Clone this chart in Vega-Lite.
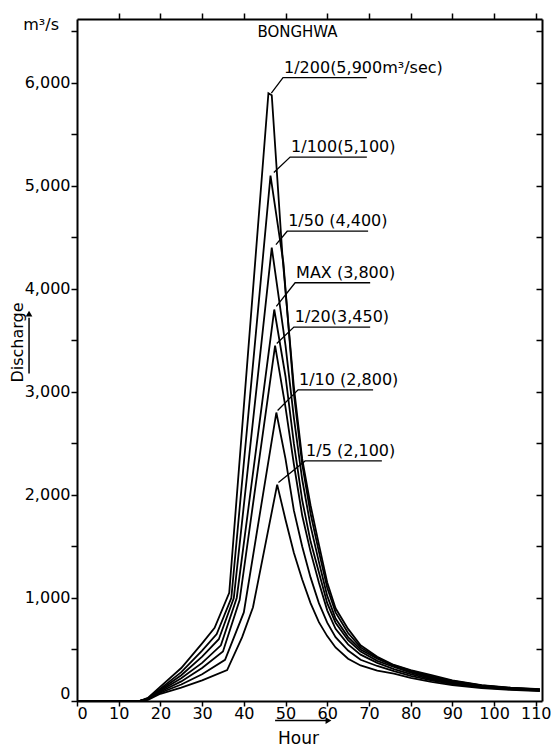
{
  "$schema": "https://vega.github.io/schema/vega-lite/v6.json",
  "width": 465,
  "height": 682,
  "autosize": {"type": "none"},
  "padding": {"left": 77, "top": 19, "right": 18, "bottom": 47},
  "background": "white",
  "title": {
    "text": "BONGHWA",
    "frame": "group",
    "offset": -13,
    "baseline": "middle",
    "dx": -12,
    "dy": 22,
    "fontSize": 15,
    "fontWeight": "normal",
    "font": "DejaVu Sans",
    "color": "black"
  },
  "datasets": {
    "hydro": [
      {"series": "1/200", "hour": 0, "discharge": 0},
      {"series": "1/200", "hour": 15, "discharge": 0},
      {"series": "1/200", "hour": 17, "discharge": 30},
      {"series": "1/200", "hour": 20, "discharge": 140},
      {"series": "1/200", "hour": 25, "discharge": 320},
      {"series": "1/200", "hour": 30, "discharge": 560},
      {"series": "1/200", "hour": 33, "discharge": 710},
      {"series": "1/200", "hour": 36.5, "discharge": 1050},
      {"series": "1/200", "hour": 45.9, "discharge": 5900},
      {"series": "1/200", "hour": 46.7, "discharge": 5880},
      {"series": "1/200", "hour": 49.3, "discharge": 4300},
      {"series": "1/200", "hour": 52, "discharge": 3050},
      {"series": "1/200", "hour": 54, "discharge": 2350},
      {"series": "1/200", "hour": 56, "discharge": 1900},
      {"series": "1/200", "hour": 58, "discharge": 1520},
      {"series": "1/200", "hour": 60, "discharge": 1150},
      {"series": "1/200", "hour": 62, "discharge": 900},
      {"series": "1/200", "hour": 65, "discharge": 700},
      {"series": "1/200", "hour": 68, "discharge": 540},
      {"series": "1/200", "hour": 72, "discharge": 430},
      {"series": "1/200", "hour": 76, "discharge": 350},
      {"series": "1/200", "hour": 80, "discharge": 300},
      {"series": "1/200", "hour": 85, "discharge": 250},
      {"series": "1/200", "hour": 90, "discharge": 200},
      {"series": "1/200", "hour": 97, "discharge": 155},
      {"series": "1/200", "hour": 104, "discharge": 130},
      {"series": "1/200", "hour": 111, "discharge": 115},

      {"series": "1/100", "hour": 0, "discharge": 0},
      {"series": "1/100", "hour": 15, "discharge": 0},
      {"series": "1/100", "hour": 17, "discharge": 25},
      {"series": "1/100", "hour": 20, "discharge": 120},
      {"series": "1/100", "hour": 25, "discharge": 280},
      {"series": "1/100", "hour": 30, "discharge": 490},
      {"series": "1/100", "hour": 33.5, "discharge": 650},
      {"series": "1/100", "hour": 37, "discharge": 1000},
      {"series": "1/100", "hour": 46.4, "discharge": 5100},
      {"series": "1/100", "hour": 49.5, "discharge": 4250},
      {"series": "1/100", "hour": 52, "discharge": 2980},
      {"series": "1/100", "hour": 54, "discharge": 2300},
      {"series": "1/100", "hour": 56, "discharge": 1820},
      {"series": "1/100", "hour": 58, "discharge": 1450},
      {"series": "1/100", "hour": 60, "discharge": 1100},
      {"series": "1/100", "hour": 62, "discharge": 860},
      {"series": "1/100", "hour": 65, "discharge": 660},
      {"series": "1/100", "hour": 68, "discharge": 520},
      {"series": "1/100", "hour": 72, "discharge": 420},
      {"series": "1/100", "hour": 76, "discharge": 345},
      {"series": "1/100", "hour": 80, "discharge": 295},
      {"series": "1/100", "hour": 85, "discharge": 240},
      {"series": "1/100", "hour": 90, "discharge": 195},
      {"series": "1/100", "hour": 97, "discharge": 152},
      {"series": "1/100", "hour": 104, "discharge": 127},
      {"series": "1/100", "hour": 111, "discharge": 112},

      {"series": "1/50", "hour": 0, "discharge": 0},
      {"series": "1/50", "hour": 15, "discharge": 0},
      {"series": "1/50", "hour": 17, "discharge": 22},
      {"series": "1/50", "hour": 20, "discharge": 110},
      {"series": "1/50", "hour": 25, "discharge": 250},
      {"series": "1/50", "hour": 30, "discharge": 430},
      {"series": "1/50", "hour": 34, "discharge": 600},
      {"series": "1/50", "hour": 37.6, "discharge": 1000},
      {"series": "1/50", "hour": 46.7, "discharge": 4400},
      {"series": "1/50", "hour": 50, "discharge": 3450},
      {"series": "1/50", "hour": 52, "discharge": 2750},
      {"series": "1/50", "hour": 54, "discharge": 2150},
      {"series": "1/50", "hour": 56, "discharge": 1700},
      {"series": "1/50", "hour": 58, "discharge": 1350},
      {"series": "1/50", "hour": 60, "discharge": 1020},
      {"series": "1/50", "hour": 62, "discharge": 800},
      {"series": "1/50", "hour": 65, "discharge": 620},
      {"series": "1/50", "hour": 68, "discharge": 500},
      {"series": "1/50", "hour": 72, "discharge": 410},
      {"series": "1/50", "hour": 76, "discharge": 340},
      {"series": "1/50", "hour": 80, "discharge": 285},
      {"series": "1/50", "hour": 85, "discharge": 230},
      {"series": "1/50", "hour": 90, "discharge": 190},
      {"series": "1/50", "hour": 97, "discharge": 148},
      {"series": "1/50", "hour": 104, "discharge": 124},
      {"series": "1/50", "hour": 111, "discharge": 110},

      {"series": "MAX", "hour": 0, "discharge": 0},
      {"series": "MAX", "hour": 15, "discharge": 0},
      {"series": "MAX", "hour": 17, "discharge": 20},
      {"series": "MAX", "hour": 20, "discharge": 100},
      {"series": "MAX", "hour": 25, "discharge": 220},
      {"series": "MAX", "hour": 30, "discharge": 370},
      {"series": "MAX", "hour": 34.5, "discharge": 540},
      {"series": "MAX", "hour": 38.3, "discharge": 1000},
      {"series": "MAX", "hour": 47.3, "discharge": 3800},
      {"series": "MAX", "hour": 50, "discharge": 3150},
      {"series": "MAX", "hour": 52, "discharge": 2500},
      {"series": "MAX", "hour": 54, "discharge": 1950},
      {"series": "MAX", "hour": 56, "discharge": 1550},
      {"series": "MAX", "hour": 58, "discharge": 1250},
      {"series": "MAX", "hour": 60, "discharge": 950},
      {"series": "MAX", "hour": 62, "discharge": 760},
      {"series": "MAX", "hour": 65, "discharge": 590},
      {"series": "MAX", "hour": 68, "discharge": 480},
      {"series": "MAX", "hour": 72, "discharge": 390},
      {"series": "MAX", "hour": 76, "discharge": 330},
      {"series": "MAX", "hour": 80, "discharge": 275},
      {"series": "MAX", "hour": 85, "discharge": 220},
      {"series": "MAX", "hour": 90, "discharge": 180},
      {"series": "MAX", "hour": 97, "discharge": 142},
      {"series": "MAX", "hour": 104, "discharge": 120},
      {"series": "MAX", "hour": 111, "discharge": 107},

      {"series": "1/20", "hour": 0, "discharge": 0},
      {"series": "1/20", "hour": 15, "discharge": 0},
      {"series": "1/20", "hour": 17, "discharge": 18},
      {"series": "1/20", "hour": 20, "discharge": 90},
      {"series": "1/20", "hour": 25, "discharge": 190},
      {"series": "1/20", "hour": 30, "discharge": 320},
      {"series": "1/20", "hour": 35, "discharge": 480},
      {"series": "1/20", "hour": 39, "discharge": 980},
      {"series": "1/20", "hour": 47.5, "discharge": 3450},
      {"series": "1/20", "hour": 50, "discharge": 2850},
      {"series": "1/20", "hour": 52, "discharge": 2300},
      {"series": "1/20", "hour": 54, "discharge": 1800},
      {"series": "1/20", "hour": 56, "discharge": 1450},
      {"series": "1/20", "hour": 58, "discharge": 1150},
      {"series": "1/20", "hour": 60, "discharge": 880},
      {"series": "1/20", "hour": 62, "discharge": 700},
      {"series": "1/20", "hour": 65, "discharge": 550},
      {"series": "1/20", "hour": 68, "discharge": 450},
      {"series": "1/20", "hour": 72, "discharge": 370},
      {"series": "1/20", "hour": 76, "discharge": 310},
      {"series": "1/20", "hour": 80, "discharge": 260},
      {"series": "1/20", "hour": 85, "discharge": 210},
      {"series": "1/20", "hour": 90, "discharge": 172},
      {"series": "1/20", "hour": 97, "discharge": 138},
      {"series": "1/20", "hour": 104, "discharge": 116},
      {"series": "1/20", "hour": 111, "discharge": 104},

      {"series": "1/10", "hour": 0, "discharge": 0},
      {"series": "1/10", "hour": 15, "discharge": 0},
      {"series": "1/10", "hour": 17, "discharge": 15},
      {"series": "1/10", "hour": 20, "discharge": 80},
      {"series": "1/10", "hour": 25, "discharge": 160},
      {"series": "1/10", "hour": 30, "discharge": 260},
      {"series": "1/10", "hour": 35.5, "discharge": 400},
      {"series": "1/10", "hour": 40, "discharge": 860},
      {"series": "1/10", "hour": 47.8, "discharge": 2800},
      {"series": "1/10", "hour": 50, "discharge": 2350},
      {"series": "1/10", "hour": 52, "discharge": 1850},
      {"series": "1/10", "hour": 54, "discharge": 1500},
      {"series": "1/10", "hour": 56, "discharge": 1200},
      {"series": "1/10", "hour": 58, "discharge": 950},
      {"series": "1/10", "hour": 60, "discharge": 760},
      {"series": "1/10", "hour": 62, "discharge": 620},
      {"series": "1/10", "hour": 65, "discharge": 490},
      {"series": "1/10", "hour": 68, "discharge": 400},
      {"series": "1/10", "hour": 72, "discharge": 340},
      {"series": "1/10", "hour": 76, "discharge": 290},
      {"series": "1/10", "hour": 80, "discharge": 245},
      {"series": "1/10", "hour": 85, "discharge": 200},
      {"series": "1/10", "hour": 90, "discharge": 165},
      {"series": "1/10", "hour": 97, "discharge": 132},
      {"series": "1/10", "hour": 104, "discharge": 112},
      {"series": "1/10", "hour": 111, "discharge": 100},

      {"series": "1/5", "hour": 0, "discharge": 0},
      {"series": "1/5", "hour": 15, "discharge": 0},
      {"series": "1/5", "hour": 17, "discharge": 12},
      {"series": "1/5", "hour": 20, "discharge": 70},
      {"series": "1/5", "hour": 25, "discharge": 130},
      {"series": "1/5", "hour": 30, "discharge": 200},
      {"series": "1/5", "hour": 36, "discharge": 300},
      {"series": "1/5", "hour": 39.6, "discharge": 620},
      {"series": "1/5", "hour": 42.2, "discharge": 910},
      {"series": "1/5", "hour": 48, "discharge": 2100},
      {"series": "1/5", "hour": 50, "discharge": 1760},
      {"series": "1/5", "hour": 52, "discharge": 1440},
      {"series": "1/5", "hour": 54, "discharge": 1180},
      {"series": "1/5", "hour": 56, "discharge": 950},
      {"series": "1/5", "hour": 58, "discharge": 765},
      {"series": "1/5", "hour": 60, "discharge": 630},
      {"series": "1/5", "hour": 62, "discharge": 520},
      {"series": "1/5", "hour": 65, "discharge": 410},
      {"series": "1/5", "hour": 68, "discharge": 345},
      {"series": "1/5", "hour": 72, "discharge": 295},
      {"series": "1/5", "hour": 76, "discharge": 265},
      {"series": "1/5", "hour": 80, "discharge": 225},
      {"series": "1/5", "hour": 85, "discharge": 185},
      {"series": "1/5", "hour": 90, "discharge": 155},
      {"series": "1/5", "hour": 97, "discharge": 126},
      {"series": "1/5", "hour": 104, "discharge": 108},
      {"series": "1/5", "hour": 111, "discharge": 96}
    ],
    "leaders": [
      {"series": "1/200", "label": "1/200(5,900m³/sec)", "step": 1, "hour": 46.6, "discharge": 5900},
      {"series": "1/200", "label": "1/200(5,900m³/sec)", "step": 2, "hour": 49.4, "discharge": 6050},
      {"series": "1/200", "label": "1/200(5,900m³/sec)", "step": 3, "hour": 69.5, "discharge": 6050},
      {"series": "1/100", "label": "1/100(5,100)", "step": 1, "hour": 47.2, "discharge": 5130},
      {"series": "1/100", "label": "1/100(5,100)", "step": 2, "hour": 51.1, "discharge": 5280},
      {"series": "1/100", "label": "1/100(5,100)", "step": 3, "hour": 69.5, "discharge": 5280},
      {"series": "1/50", "label": "1/50 (4,400)", "step": 1, "hour": 47.7, "discharge": 4430},
      {"series": "1/50", "label": "1/50 (4,400)", "step": 2, "hour": 50.4, "discharge": 4560},
      {"series": "1/50", "label": "1/50 (4,400)", "step": 3, "hour": 69.8, "discharge": 4560},
      {"series": "MAX", "label": "MAX (3,800)", "step": 1, "hour": 47.8, "discharge": 3830},
      {"series": "MAX", "label": "MAX (3,800)", "step": 2, "hour": 52.3, "discharge": 4060},
      {"series": "MAX", "label": "MAX (3,800)", "step": 3, "hour": 70.3, "discharge": 4060},
      {"series": "1/20", "label": "1/20(3,450)", "step": 1, "hour": 47.9, "discharge": 3470},
      {"series": "1/20", "label": "1/20(3,450)", "step": 2, "hour": 52.0, "discharge": 3630},
      {"series": "1/20", "label": "1/20(3,450)", "step": 3, "hour": 70.3, "discharge": 3630},
      {"series": "1/10", "label": "1/10 (2,800)", "step": 1, "hour": 48.1, "discharge": 2820},
      {"series": "1/10", "label": "1/10 (2,800)", "step": 2, "hour": 53.0, "discharge": 3020},
      {"series": "1/10", "label": "1/10 (2,800)", "step": 3, "hour": 71.0, "discharge": 3020},
      {"series": "1/5", "label": "1/5 (2,100)", "step": 1, "hour": 48.3, "discharge": 2120},
      {"series": "1/5", "label": "1/5 (2,100)", "step": 2, "hour": 54.7, "discharge": 2330},
      {"series": "1/5", "label": "1/5 (2,100)", "step": 3, "hour": 73.1, "discharge": 2330}
    ]
  },
  "resolve": {"axis": {"x": "independent", "y": "independent"}},
  "layer": [
    {
      "data": {"name": "hydro"},
      "mark": {"type": "line", "stroke": "black", "strokeWidth": 1.8, "strokeJoin": "miter"},
      "encoding": {
        "x": {
          "field": "hour",
          "type": "quantitative",
          "scale": {"domain": [0, 111.5], "nice": false, "zero": false},
          "axis": {
            "orient": "bottom",
            "values": [0, 10, 20, 30, 40, 50, 60, 70, 80, 90, 100, 110],
            "tickSize": 5,
            "labelPadding": -1,
            "labelFontSize": 16,
            "labelFlush": true,
            "labelDx": 3,
            "title": "Hour",
            "titleX": 221,
            "titleY": 37,
            "titleAlign": "center",
            "titleBaseline": "middle",
            "titleFontSize": 17,
            "titleFontWeight": "normal"
          }
        },
        "y": {
          "field": "discharge",
          "type": "quantitative",
          "scale": {"domain": [0, 6620], "nice": false},
          "axis": {
            "orient": "left",
            "values": [0, 500, 1000, 1500, 2000, 2500, 3000, 3500, 4000, 4500, 5000, 5500, 6000, 6500],
            "labelExpr": "datum.value % 1000 === 0 ? format(datum.value, ',') : ''",
            "labelOverlap": false,
            "labelFlush": true,
            "tickSize": 6,
            "labelPadding": 1,
            "labelFontSize": 16,
            "title": "Discharge",
            "titleAngle": 270,
            "titleX": -60,
            "titleY": 323,
            "titleAlign": "center",
            "titleBaseline": "middle",
            "titleFontSize": 16,
            "titleFontWeight": "normal"
          }
        },
        "detail": {"field": "series"}
      }
    },
    {
      "data": {"name": "leaders"},
      "mark": {"type": "line", "stroke": "black", "strokeWidth": 1.3},
      "encoding": {
        "x": {
          "field": "hour",
          "type": "quantitative",
          "axis": {
            "orient": "top",
            "values": [10, 20, 30, 40, 50, 60, 70, 80, 90, 100, 110],
            "labels": false,
            "tickSize": 6,
            "title": null
          }
        },
        "y": {
          "field": "discharge",
          "type": "quantitative",
          "axis": {
            "orient": "right",
            "values": [500, 1000, 1500, 2000, 2500, 3000, 3500, 4000, 4500, 5000, 5500, 6000, 6500],
            "labels": false,
            "tickSize": -6,
            "title": null
          }
        },
        "detail": {"field": "series"},
        "order": {"field": "step"}
      }
    },
    {
      "data": {"name": "leaders"},
      "transform": [{"filter": "datum.step === 2"}],
      "mark": {"type": "text", "align": "left", "baseline": "bottom", "dx": 1, "dy": -2, "fontSize": 16, "font": "DejaVu Sans", "color": "black"},
      "encoding": {
        "x": {"field": "hour", "type": "quantitative", "axis": null},
        "y": {"field": "discharge", "type": "quantitative", "axis": null},
        "text": {"field": "label"}
      }
    },
    {
      "data": {"values": [{"unit": "m³/s"}]},
      "mark": {"type": "text", "align": "center", "baseline": "middle", "fontSize": 16, "font": "DejaVu Sans", "color": "black"},
      "encoding": {
        "x": {"datum": -8.6, "type": "quantitative", "axis": null},
        "y": {"datum": 6560, "type": "quantitative", "axis": null},
        "text": {"field": "unit"}
      }
    },
    {
      "description": "arrow shaft beside the Hour title",
      "data": {"values": [{}]},
      "mark": {"type": "rule", "stroke": "black", "strokeWidth": 1.5},
      "encoding": {
        "x": {"datum": 47.5, "type": "quantitative", "axis": null},
        "x2": {"datum": 59.8},
        "y": {"datum": -190, "type": "quantitative", "axis": null}
      }
    },
    {
      "description": "arrowhead of the Hour arrow",
      "data": {"values": [{}]},
      "mark": {"type": "point", "shape": "triangle-right", "filled": true, "color": "black", "size": 45, "opacity": 1},
      "encoding": {
        "x": {"datum": 60.3, "type": "quantitative", "axis": null},
        "y": {"datum": -190, "type": "quantitative", "axis": null}
      }
    },
    {
      "description": "arrow shaft beside the Discharge title",
      "data": {"values": [{}]},
      "mark": {"type": "rule", "stroke": "black", "strokeWidth": 1.5},
      "encoding": {
        "x": {"datum": -11.5, "type": "quantitative", "axis": null},
        "y": {"datum": 3180, "type": "quantitative", "axis": null},
        "y2": {"datum": 3720}
      }
    },
    {
      "description": "arrowhead of the Discharge arrow",
      "data": {"values": [{}]},
      "mark": {"type": "point", "shape": "triangle-up", "filled": true, "color": "black", "size": 45, "opacity": 1},
      "encoding": {
        "x": {"datum": -11.5, "type": "quantitative", "axis": null},
        "y": {"datum": 3760, "type": "quantitative", "axis": null}
      }
    }
  ],
  "config": {
    "font": "DejaVu Sans",
    "view": {"stroke": null},
    "axis": {
      "grid": false,
      "domainColor": "black",
      "domainWidth": 2,
      "tickColor": "black",
      "tickWidth": 1.5,
      "labelColor": "black",
      "titleColor": "black",
      "labelFont": "DejaVu Sans",
      "titleFont": "DejaVu Sans"
    }
  }
}
